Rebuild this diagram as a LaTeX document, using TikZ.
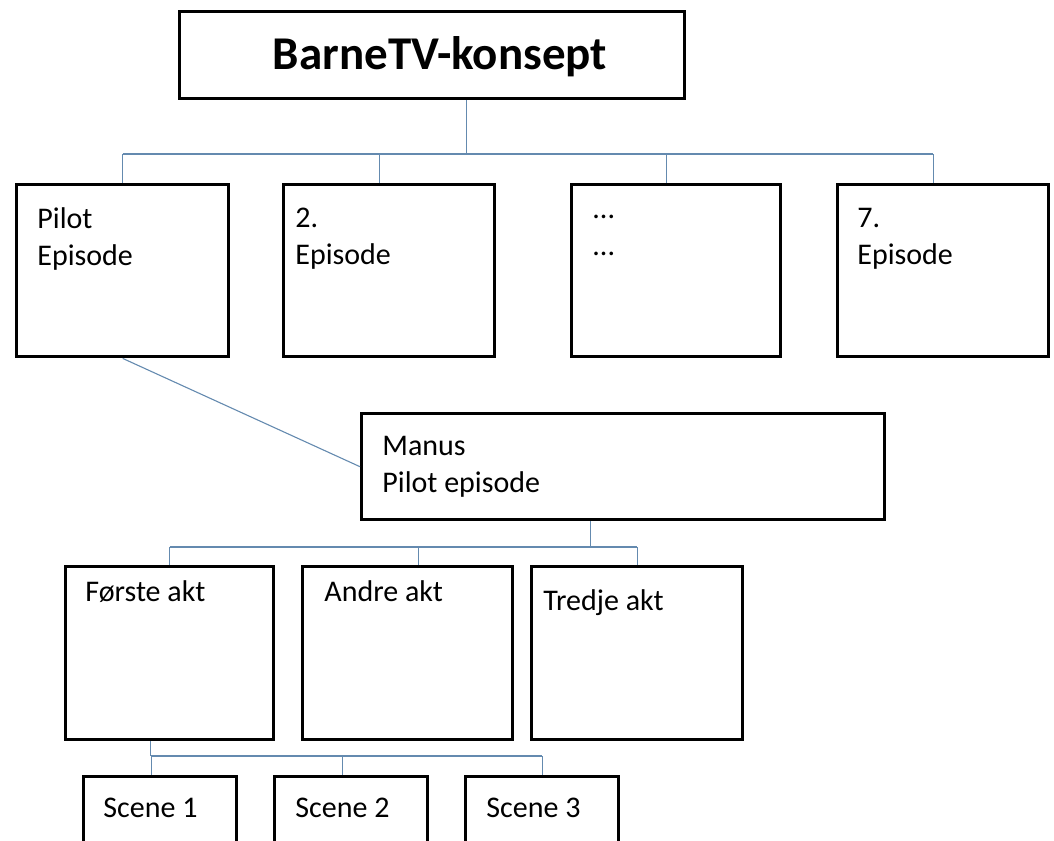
\documentclass[tikz,border=0pt]{standalone}
\usepackage{fontspec}
\setmainfont{Carlito}
\usetikzlibrary{positioning}
\definecolor{LineBlue}{RGB}{100,138,175}
\tikzset{
	box/.style={draw,line width=1.7pt,anchor=north west,inner sep=0pt},
	lbl/.style={anchor=north west,align=left,inner sep=0pt,font=\fontsize{15}{18.5}\selectfont},
	conn/.style={LineBlue,line width=0.55pt}
}

\begin{document}
\begin{tikzpicture}[x=0.5pt,y=-0.5pt]
		% border
		\useasboundingbox (0,0) rectangle (1054,840);

		% top box
		\node[box,minimum width=252.5pt,minimum height=43.5pt] (concept) at (178,10) {};
		\node[anchor=base,inner sep=0pt,font=\fontsize{23.5}{26}\selectfont\bfseries] (title) at (440,70) {BarneTV-konsept};

		% episodes
		\node[box,minimum width=106pt,minimum height=86pt] (ep1) at (15,183) {};
		\node[box,minimum width=105.5pt,minimum height=86pt] (ep2) at (282,183) {};
		\node[box,minimum width=104.5pt,minimum height=86pt] (ep3) at (570,183) {};
		\node[box,minimum width=105.5pt,minimum height=86pt] (ep4) at (836,183) {};
		\node[lbl,below right=12pt and 11pt of ep1.north west,anchor=north west] (ep1txt) {Pilot\\Episode};
		\node[lbl,below right=12.5pt and 6.5pt of ep2.north west,anchor=north west] (ep2txt) {2.\\Episode};
		\node[lbl,below right=16pt and 11pt of ep3.north west,anchor=north west] (ep3txt) {...\\...};
		\node[lbl,below right=12.5pt and 10.5pt of ep4.north west,anchor=north west] (ep4txt) {7.\\Episode};

		% script box
		\node[box,minimum width=261.5pt,minimum height=53pt] (manus) at (360,412) {};
		\node[lbl,below right=12pt and 11pt of manus.north west,anchor=north west] (manustxt) {Manus\\Pilot episode};

		% acts
		\node[box,minimum width=104pt,minimum height=86.5pt] (act1) at (64,565) {};
		\node[box,minimum width=105pt,minimum height=86.5pt] (act2) at (301,565) {};
		\node[box,minimum width=105.5pt,minimum height=86.5pt] (act3) at (530,565) {};
		\node[lbl,below right=7.5pt and 10.5pt of act1.north west,anchor=north west] (act1txt) {Første akt};
		\node[lbl,below right=7.5pt and 11.5pt of act2.north west,anchor=north west] (act2txt) {Andre akt};
		\node[lbl,below right=12pt and 6.5pt of act3.north west,anchor=north west] (act3txt) {Tredje akt};

		% scenes
		\node[box,minimum width=76.5pt,minimum height=50pt] (sc1) at (82,775) {};
		\node[box,minimum width=76.5pt,minimum height=50pt] (sc2) at (273,775) {};
		\node[box,minimum width=76.5pt,minimum height=50pt] (sc3) at (464,775) {};
		\node[lbl,below right=11.5pt and 10.5pt of sc1.north west,anchor=north west] (sc1txt) {Scene 1};
		\node[lbl,below right=11.5pt and 11pt of sc2.north west,anchor=north west] (sc2txt) {Scene 2};
		\node[lbl,below right=11.5pt and 11pt of sc3.north west,anchor=north west] (sc3txt) {Scene 3};

		% bus levels
		\coordinate (epbus) at (0,154);
		\coordinate (actbus) at (0,547);
		\coordinate (scbus) at (0,756);

		% concept -> episodes
		\draw[conn] ([xshift=17pt]concept.south) -- ([xshift=17pt]concept.south |- epbus);
		\draw[conn] (ep1.north |- epbus) -- ([xshift=-5pt]ep4.north |- epbus);
		\draw[conn] (ep1.north) -- (ep1.north |- epbus);
		\draw[conn] ([xshift=-5pt]ep2.north) -- ([xshift=-5pt]ep2.north |- epbus);
		\draw[conn] ([xshift=-5pt]ep3.north) -- ([xshift=-5pt]ep3.north |- epbus);
		\draw[conn] ([xshift=-5pt]ep4.north) -- ([xshift=-5pt]ep4.north |- epbus);

		% pilot -> script
		\draw[conn] (ep1.south) -- (manus.west);

		% script -> acts
		\draw[conn] ([xshift=-16.5pt]manus.south) -- ([xshift=-16.5pt]manus.south |- actbus);
		\draw[conn] (act1.north |- actbus) -- (act3.north |- actbus);
		\draw[conn] (act1.north) -- (act1.north |- actbus);
		\draw[conn] ([xshift=5.5pt]act2.north) -- ([xshift=5.5pt]act2.north |- actbus);
		\draw[conn] (act3.north) -- (act3.north |- actbus);

		% first act -> scenes
		\draw[conn] ([xshift=-9.5pt]act1.south) -- ([xshift=-9.5pt]act1.south |- scbus);
		\draw[conn] ([xshift=-4.5pt]sc1.north |- scbus) -- (sc3.north |- scbus);
		\draw[conn] ([xshift=-4.5pt]sc1.north) -- ([xshift=-4.5pt]sc1.north |- scbus);
		\draw[conn] ([xshift=-4.5pt]sc2.north) -- ([xshift=-4.5pt]sc2.north |- scbus);
		\draw[conn] (sc3.north) -- (sc3.north |- scbus);
	\end{tikzpicture}
\end{document}
